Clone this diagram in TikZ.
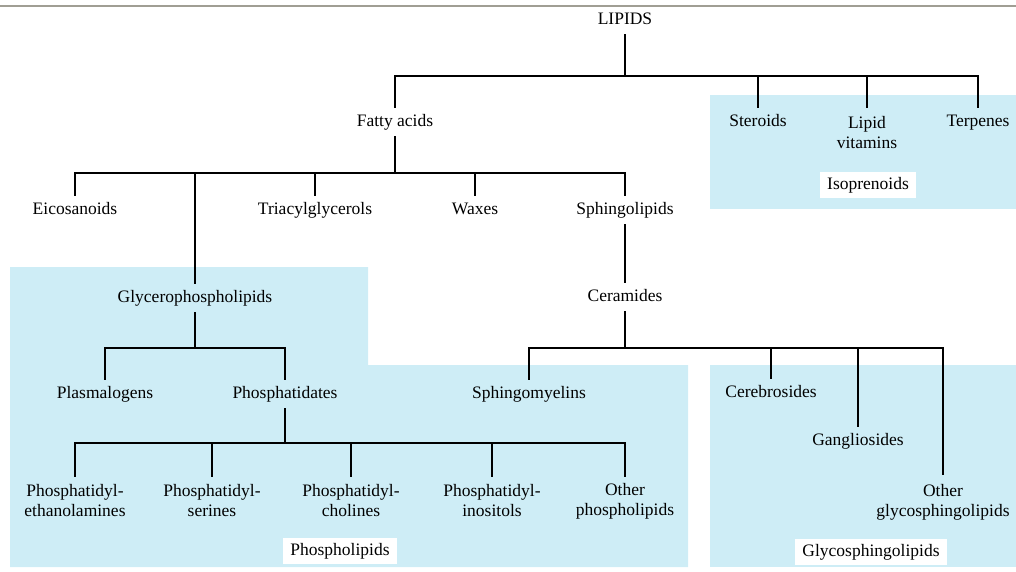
\documentclass[tikz,border=0pt]{standalone}
\usepackage{fontspec}
\setmainfont{Liberation Serif}
\definecolor{shade}{RGB}{206,237,246}
\definecolor{topline}{RGB}{160,158,148}
\tikzset{
  lbl/.style={inner sep=0pt, text height=12pt, text depth=4pt, minimum height=28pt, font=\fontsize{17.5}{20}\selectfont},
  twoline/.style={lbl, align=center, text height=, text depth=, minimum height=48pt},
  tag/.style={fill=white, inner xsep=7pt, inner ysep=5pt, text height=12pt, text depth=4pt, font=\fontsize{17.5}{20}\selectfont},
  conn/.style={draw=black, line width=1.8pt},
  region/.style={fill=shade, draw=none}
}
\begin{document}
\begin{tikzpicture}[x=1pt, y=-1pt]
\useasboundingbox (0,0) rectangle (1016,571);
% top rule
\draw[topline, line width=2.5pt] (0,6) -- (1016,6);
% shaded regions
\fill[region] (10,267) -- (368,267) -- (368,365) -- (688,365) -- (688,567) -- (10,567) -- cycle;
\fill[region] (710,95) rectangle (1016,209);
\fill[region] (710,365) rectangle (1016,567);
% bar levels
\coordinate (b1) at (0,76);
\coordinate (b2) at (0,173);
\coordinate (b3) at (0,348);
\coordinate (b4) at (0,443);
% nodes
\node[lbl] (lipids) at (625,20) {LIPIDS};
\node[lbl] (fatty) at (395,122) {Fatty acids};
\node[lbl] (steroids) at (758,122) {Steroids};
\node[twoline, minimum height=50pt] (vitamins) at (867,133) {Lipid\\vitamins};
\node[lbl] (terpenes) at (978,122) {Terpenes};
\node[tag] (isoprenoids) at (868,185) {Isoprenoids};
\node[lbl] (eicosanoids) at (75,210) {Eicosanoids};
\node[lbl] (triacyl) at (315,210) {Triacylglycerols};
\node[lbl] (waxes) at (475,210) {Waxes};
\node[lbl] (sphingo) at (625,210) {Sphingolipids};
\node[lbl] (glycero) at (195,298) {Glycerophospholipids};
\node[lbl] (ceramides) at (625,297) {Ceramides};
\node[lbl] (plasmalogens) at (105,394) {Plasmalogens};
\node[lbl] (phosphatidates) at (285,394) {Phosphatidates};
\node[lbl] (sphingomyelins) at (529,394) {Sphingomyelins};
\node[lbl] (cerebrosides) at (771,393) {Cerebrosides};
\node[lbl] (gangliosides) at (858,441) {Gangliosides};
\node[twoline] (pe) at (75,501) {Phosphatidyl-\\ethanolamines};
\node[twoline] (ps) at (212,501) {Phosphatidyl-\\serines};
\node[twoline] (pc) at (351,501) {Phosphatidyl-\\cholines};
\node[twoline] (pi) at (492,501) {Phosphatidyl-\\inositols};
\node[twoline] (otherpl) at (625,501) {Other\\phospholipids};
\node[twoline, minimum height=54pt] (otherglyco) at (943,502) {Other\\glycosphingolipids};
\node[tag] (phospholipids) at (340,551) {Phospholipids};
\node[tag] (glycosphingolipids) at (871,552) {Glycosphingolipids};
% connectors
\draw[conn] (lipids.south) -- (lipids.south |- b1);
\draw[conn] (fatty.north) |- (terpenes.north |- b1) -- (terpenes.north);
\draw[conn] (steroids.north |- b1) -- (steroids.north);
\draw[conn] (vitamins.north |- b1) -- (vitamins.north);

\draw[conn] (fatty.south) -- (fatty.south |- b2);
\draw[conn] (eicosanoids.north) |- (sphingo.north |- b2) -- (sphingo.north);
\draw[conn] (triacyl.north |- b2) -- (triacyl.north);
\draw[conn] (waxes.north |- b2) -- (waxes.north);
\draw[conn] (glycero.north |- b2) -- (glycero.north);

\draw[conn] (glycero.south) -- (glycero.south |- b3);
\draw[conn] (plasmalogens.north) |- (phosphatidates.north |- b3) -- (phosphatidates.north);

\draw[conn] (sphingo.south) -- (ceramides.north);
\draw[conn] (ceramides.south) -- (ceramides.south |- b3);
\draw[conn] (sphingomyelins.north) |- (otherglyco.north |- b3) -- (otherglyco.north);
\draw[conn] (cerebrosides.north |- b3) -- (cerebrosides.north);
\draw[conn] (gangliosides.north |- b3) -- (gangliosides.north);

\draw[conn] (phosphatidates.south) -- (phosphatidates.south |- b4);
\draw[conn] (pe.north) |- (otherpl.north |- b4) -- (otherpl.north);
\draw[conn] (ps.north |- b4) -- (ps.north);
\draw[conn] (pc.north |- b4) -- (pc.north);
\draw[conn] (pi.north |- b4) -- (pi.north);
\end{tikzpicture}
\end{document}
